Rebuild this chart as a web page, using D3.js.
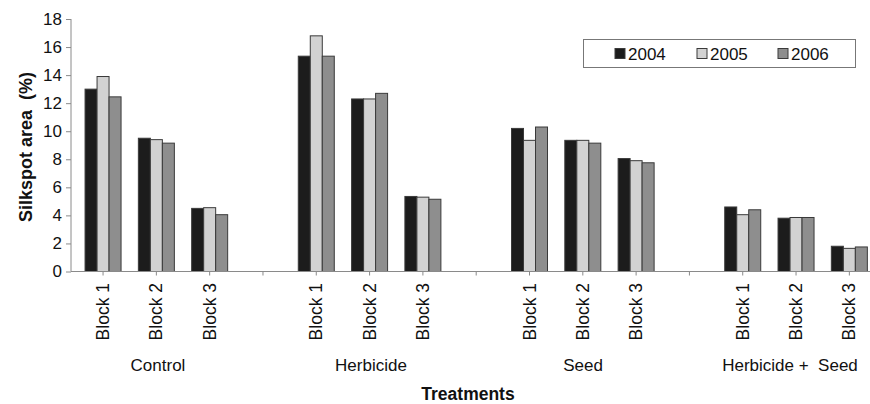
<!DOCTYPE html>
<html>
<head>
<meta charset="utf-8">
<script src="https://cdn.jsdelivr.net/npm/d3@7"></script>
<style>
  body { margin: 0; background: #fff; }
  text { font-family: "Liberation Sans", Arial, sans-serif; }
</style>
</head>
<body>
<div id="chart"></div>
<script>
/* DATA */
const treatments = ["Control", "Herbicide", "Seed", "Herbicide +  Seed"];
const blocks = ["Block 1", "Block 2", "Block 3"];
const years = ["2004", "2005", "2006"];
// values per treatment/block, in order Control B1..B3, Herbicide B1..B3, ...
const v2004 = [13.0, 9.5, 4.5, 15.35, 12.3, 5.35, 10.2, 9.35, 8.05, 4.6, 3.8, 1.8];
const v2005 = [13.9, 9.4, 4.55, 16.8, 12.3, 5.3, 9.35, 9.35, 7.9, 4.05, 3.85, 1.65];
const v2006 = [12.45, 9.15, 4.05, 15.35, 12.7, 5.15, 10.3, 9.15, 7.75, 4.4, 3.85, 1.75];
const yTicks = [0, 2, 4, 6, 8, 10, 12, 14, 16, 18];

/* CONSTANTS */
const width = 870, height = 404;
const colors = { "2004": "#1c1c1c", "2005": "#d2d2d2", "2006": "#8e8e8e" };

// slots: 3 blocks per treatment, one empty slot between treatments
const slots = [];
treatments.forEach((t, i) => {
  blocks.forEach(b => slots.push(t + "|" + b));
  if (i < treatments.length - 1) slots.push("gap" + i);
});

const rows = [];
treatments.forEach((t, i) => {
  blocks.forEach((b, j) => {
    const k = i * 3 + j;
    rows.push({ slot: t + "|" + b, block: b, values: { "2004": v2004[k], "2005": v2005[k], "2006": v2006[k] } });
  });
});

const svg = d3.select("#chart").append("svg")
  .attr("width", width)
  .attr("height", height);

const xScale = d3.scaleBand()
  .domain(slots)
  .range([76.4, 876]);

const yScale = d3.scaleLinear()
  .domain([0, 18])
  .range([271.5, 19]);

const groupW = 36;
const xInner = d3.scaleBand()
  .domain(years)
  .range([0, groupW]);

// y axis
const yAxis = d3.axisLeft(yScale).tickValues(yTicks).tickSize(5).tickPadding(4);
const yG = svg.append("g")
  .attr("transform", "translate(71,0)")
  .call(yAxis);
yG.select(".domain").attr("stroke", "#8a8a8a").attr("d", "M0,19V271.5");
yG.selectAll(".tick line").attr("stroke", "#8a8a8a");
yG.selectAll(".tick text").attr("font-size", 17).attr("fill", "#111");

// bars
const groups = svg.selectAll("g.block")
  .data(rows)
  .join("g")
  .attr("class", "block")
  .attr("transform", d => `translate(${xScale(d.slot) + (xScale.bandwidth() - groupW) / 2},0)`);

groups.selectAll("rect")
  .data(d => years.map(y => ({ year: y, value: d.values[y] })))
  .join("rect")
  .attr("x", d => xInner(d.year))
  .attr("y", d => yScale(d.value))
  .attr("width", xInner.bandwidth())
  .attr("height", d => yScale(0) - yScale(d.value))
  .attr("fill", d => colors[d.year])
  .attr("stroke", "#3a3a3a")
  .attr("stroke-width", 1);

// x axis
const xAxis = d3.axisBottom(xScale).tickSize(4).tickFormat("");
const xG = svg.append("g")
  .attr("transform", `translate(0,${yScale(0)})`)
  .call(xAxis);
xG.select(".domain").attr("stroke", "#8a8a8a").attr("d", "M71,0H870");
xG.selectAll(".tick line").attr("stroke", "#8a8a8a");

// block labels (rotated)
svg.selectAll("text.blockLabel")
  .data(rows)
  .join("text")
  .attr("class", "blockLabel")
  .attr("transform", d => `translate(${xScale(d.slot) + xScale.bandwidth() / 2 + 6},283) rotate(-90)`)
  .attr("text-anchor", "end")
  .attr("font-size", 17.5)
  .attr("fill", "#111")
  .text(d => d.block);

// treatment labels
const treatCenters = [158, 371, 583, 790];
svg.selectAll("text.treat")
  .data(treatments)
  .join("text")
  .attr("class", "treat")
  .attr("x", (d, i) => treatCenters[i])
  .attr("y", 371)
  .attr("text-anchor", "middle")
  .attr("font-size", 17)
  .attr("fill", "#111")
  .style("white-space", "pre")
  .text(d => d);

// axis titles
svg.append("text")
  .attr("x", 468)
  .attr("y", 400)
  .attr("text-anchor", "middle")
  .attr("font-size", 17.5)
  .attr("font-weight", "bold")
  .attr("fill", "#111")
  .text("Treatments");

svg.append("text")
  .attr("transform", "translate(32,147) rotate(-90)")
  .attr("text-anchor", "middle")
  .attr("font-size", 18)
  .attr("font-weight", "bold")
  .attr("fill", "#111")
  .style("white-space", "pre")
  .text("Silkspot area  (%)");

// legend
const legend = svg.append("g");
legend.append("rect")
  .attr("x", 583.5).attr("y", 39.5)
  .attr("width", 272).attr("height", 28)
  .attr("fill", "#fff")
  .attr("stroke", "#777");
const legX = [615, 697, 778];
const items = legend.selectAll("g.item")
  .data(years)
  .join("g")
  .attr("class", "item")
  .attr("transform", (d, i) => `translate(${legX[i]},53.5)`);
items.append("rect")
  .attr("x", 0).attr("y", -5)
  .attr("width", 10).attr("height", 10)
  .attr("fill", d => colors[d])
  .attr("stroke", "#3a3a3a");
items.append("text")
  .attr("x", 13).attr("y", 6)
  .attr("font-size", 17)
  .attr("fill", "#111")
  .text(d => d);
</script>
</body>
</html>
